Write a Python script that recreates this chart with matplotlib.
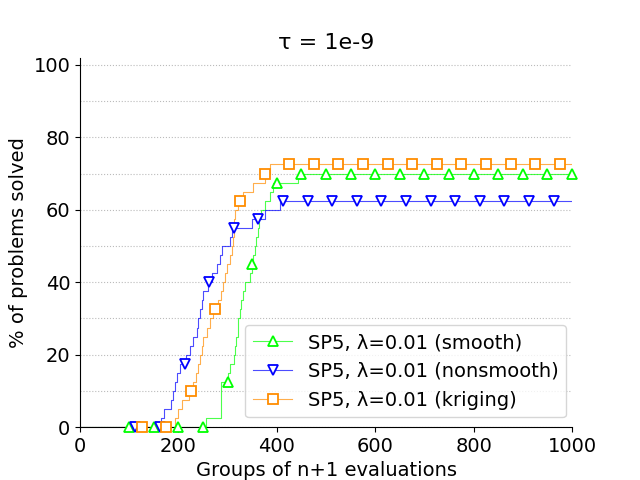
import matplotlib
matplotlib.use("Agg")
import matplotlib.pyplot as plt
from matplotlib.lines import Line2D
from matplotlib.ticker import MultipleLocator
import numpy as np

# step breakpoints (budget, % solved)
smooth_x = [0, 256, 286, 301, 305, 312, 315, 318, 322, 325, 327, 331, 335, 346, 349,
            352, 355, 358, 361, 364, 367, 376, 386, 393, 443, 1000]
smooth_y = [0, 2.5, 12.5, 15, 17.5, 20, 22.5, 25, 30, 32.5, 35, 37.5, 40, 42.5, 45,
            47.5, 50, 52.5, 55, 57.5, 60, 62.5, 65, 67.5, 70, 70]

nonsmooth_x = [0, 165, 170, 185, 190, 193, 197, 203, 215, 224, 230, 237, 240, 244, 248,
               251, 261, 268, 278, 284, 288, 305, 308, 349, 376, 406, 1000]
nonsmooth_y = [0, 2.5, 5, 7.5, 10, 12.5, 15, 17.5, 20, 22.5, 25, 27.5, 30, 32.5, 35,
               37.5, 40, 42.5, 45, 47.5, 50, 52.5, 55, 57.5, 60, 62.5, 62.5]

kriging_x = [0, 193, 200, 207, 222, 230, 235, 240, 244, 247, 251, 258, 264, 271, 281,
             286, 291, 295, 298, 305, 308, 310, 312, 314, 316, 322, 332, 352, 375, 386, 1000]
kriging_y = [0, 2.5, 5, 7.5, 10, 12.5, 15, 17.5, 20, 22.5, 25, 27.5, 30, 32.5, 35,
             37.5, 40, 42.5, 45, 47.5, 50, 52.5, 55, 57.5, 60, 62.5, 65, 67.5, 70, 72.5, 72.5]

labels = ["SP5, \u03bb=0.01 (smooth)", "SP5, \u03bb=0.01 (nonsmooth)", "SP5, \u03bb=0.01 (kriging)"]
colors = [(0.0, 1.0, 0.0), (0.0, 0.0, 1.0), (1.0, 0.55, 0.0)]
markers = ["^", "v", "s"]
mark_start = [100, 112.5, 125]   # where the markers begin, one every 50

series = [(smooth_x, smooth_y), (nonsmooth_x, nonsmooth_y), (kriging_x, kriging_y)]

fig = plt.figure(figsize=(6.4, 4.8), dpi=100)
ax = fig.add_axes([0.125, 0.11, 0.76875, 0.77])

handles = []
for (xs, ys), lab, c, m, s in zip(series, labels, colors, markers, mark_start):
    ax.plot(xs, ys, drawstyle="steps-post", color=c, alpha=0.7, lw=0.8, zorder=2)
    mx = np.arange(s, 1000.1, 50)
    idx = np.searchsorted(xs, mx, side="right") - 1
    my = np.array(ys)[idx]
    ax.plot(mx, my, ls="none", marker=m, ms=7, mfc="white", mec=c, mew=1.3, zorder=3, clip_on=False)
    handles.append(Line2D([], [], color=c + (0.7,), lw=0.8, marker=m, ms=7,
                          mfc="white", mec=c, mew=1.3))

ax.set_xlim(0, 1000)
ax.set_ylim(0, 102)
ax.yaxis.set_major_locator(MultipleLocator(20))
ax.yaxis.set_minor_locator(MultipleLocator(10))
ax.tick_params(which="minor", left=False)
ax.grid(axis="y", which="both", ls=":", color="#bbbbbb", lw=0.8)
ax.set_axisbelow(True)
ax.spines["top"].set_visible(False)
ax.spines["right"].set_visible(False)
ax.tick_params(labelsize=14)

ax.set_title("\u03c4 = 1e-9", fontsize=16)
ax.set_xlabel("Groups of n+1 evaluations", fontsize=14)
ax.set_ylabel("% of problems solved", fontsize=14)
ax.legend(handles, labels, loc="lower right", bbox_to_anchor=(1.008, 0), fontsize=14)

plt.savefig("out.png")
